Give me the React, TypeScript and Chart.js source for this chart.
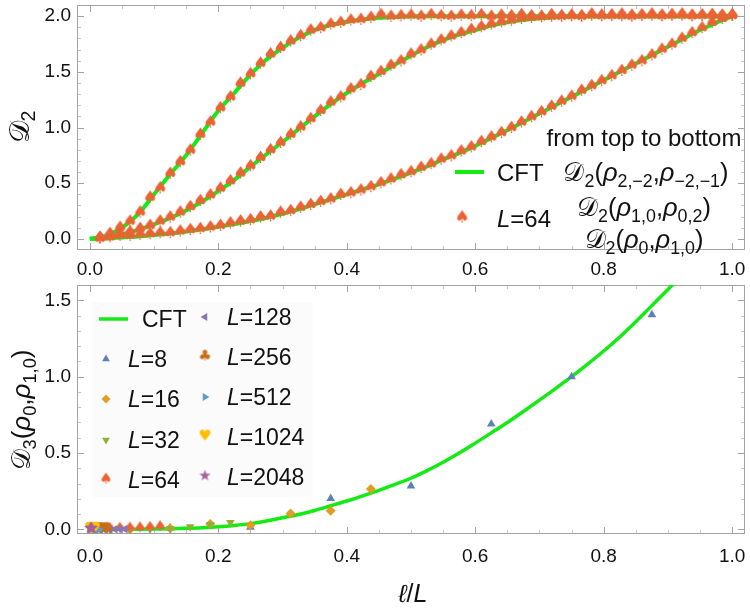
import React, { useEffect, useRef } from "react";
import { Chart, registerables } from "chart.js";
import { drawPoint } from "chart.js/helpers";

Chart.register(...registerables);

// ---------------- data ----------------
const X_TICKS = [0, 0.2, 0.4, 0.6, 0.8, 1.0];
const X_MINOR = [0.05, 0.1, 0.15, 0.25, 0.3, 0.35, 0.45, 0.5, 0.55, 0.65, 0.7, 0.75, 0.85, 0.9, 0.95];
const TOP_Y_TICKS = [0, 0.5, 1.0, 1.5, 2.0];
const TOP_Y_MINOR = [0.1, 0.2, 0.3, 0.4, 0.6, 0.7, 0.8, 0.9, 1.1, 1.2, 1.3, 1.4, 1.6, 1.7, 1.8, 1.9];
const BOT_Y_TICKS = [0, 0.5, 1.0, 1.5];
const BOT_Y_MINOR = [0.1, 0.2, 0.3, 0.4, 0.6, 0.7, 0.8, 0.9, 1.1, 1.2, 1.3, 1.4];

// CFT curves sampled on l/L grid
const CFT_X = [0, 0.025, 0.05, 0.075, 0.1, 0.125, 0.15, 0.175, 0.2, 0.225, 0.25, 0.275, 0.3, 0.325, 0.35, 0.375, 0.4, 0.425, 0.45, 0.475, 0.5, 0.525, 0.55, 0.575, 0.6, 0.625, 0.65, 0.675, 0.7, 0.725, 0.75, 0.775, 0.8, 0.825, 0.85, 0.875, 0.9, 0.925, 0.95, 0.975, 1.0];
const CFT_TOP = [0, 0.03, 0.1, 0.22, 0.4, 0.58, 0.75, 0.95, 1.15, 1.31, 1.475, 1.61, 1.715, 1.805, 1.875, 1.92, 1.95, 1.97, 1.985, 1.993, 1.997, 2, 2, 2, 2, 2, 2, 2, 2, 2, 2, 2, 2, 2, 2, 2, 2, 2, 2, 2, 2];
const CFT_MID = [0, 0.012, 0.04, 0.08, 0.13, 0.187, 0.255, 0.335, 0.428, 0.53, 0.647, 0.76, 0.87, 0.985, 1.1, 1.21, 1.31, 1.4, 1.48, 1.565, 1.645, 1.72, 1.785, 1.835, 1.875, 1.915, 1.945, 1.965, 1.98, 1.99, 1.995, 2, 2, 2, 2, 2, 2, 2, 2, 2, 2];
const CFT_BOT = [0, 0.004, 0.012, 0.022, 0.034, 0.048, 0.066, 0.086, 0.108, 0.133, 0.16, 0.19, 0.225, 0.265, 0.31, 0.355, 0.4, 0.445, 0.49, 0.54, 0.595, 0.65, 0.713, 0.77, 0.835, 0.905, 0.975, 1.05, 1.125, 1.2, 1.275, 1.35, 1.425, 1.5, 1.575, 1.65, 1.725, 1.8, 1.875, 1.94, 2.0];

// L=64 lattice data, l = 1..64
const L64 = 64;
const TOP_L64 = [
  0.0, 0.04, 0.095, 0.15, 0.232, 0.365, 0.449, 0.58, 0.684, 0.788,
  0.93, 1.04, 1.168, 1.266, 1.39, 1.474, 1.569, 1.652, 1.709, 1.768,
  1.816, 1.866, 1.887, 1.92, 1.935, 1.956, 1.962, 1.98, 2.005, 1.99,
  1.995, 2.0, 1.99, 2.005, 1.995, 1.99, 2.0, 1.995, 2.005, 1.99,
  2.0, 1.995, 2.005, 1.995, 1.99, 2.005, 1.995, 2.0, 1.99, 2.01,
  1.995, 2.0, 2.01, 1.99, 2.0, 2.01, 1.995, 2.005, 2.01, 1.995,
  2.0, 2.005, 1.995, 2.0,
];
const MID_L64 = [
  0.0, 0.02, 0.039, 0.055, 0.085, 0.112, 0.151, 0.187, 0.232, 0.28,
  0.335, 0.386, 0.446, 0.512, 0.582, 0.647, 0.722, 0.791, 0.856, 0.93,
  0.996, 1.07, 1.144, 1.219, 1.266, 1.338, 1.376, 1.45, 1.494, 1.55,
  1.59, 1.65, 1.688, 1.739, 1.777, 1.813, 1.842, 1.872, 1.896, 1.92,
  1.94, 1.955, 1.97, 1.98, 1.985, 1.99, 1.99, 1.995, 1.995, 2.0,
  2.0, 2.0, 1.995, 2.0, 2.0, 2.0, 2.0, 2.0, 2.0, 2.0,
  2.0, 2.0, 2.0, 2.0,
];
const BOT_L64 = [
  0.003, 0.009, 0.023, 0.023, 0.032, 0.038, 0.047, 0.047, 0.062, 0.074,
  0.083, 0.098, 0.112, 0.134, 0.151, 0.163, 0.187, 0.196, 0.23, 0.245,
  0.275, 0.3, 0.327, 0.35, 0.39, 0.405, 0.43, 0.46, 0.495, 0.529,
  0.567, 0.594, 0.633, 0.665, 0.707, 0.737, 0.781, 0.817, 0.865, 0.906,
  0.945, 0.99, 1.04, 1.088, 1.132, 1.182, 1.227, 1.272, 1.325, 1.367,
  1.411, 1.456, 1.503, 1.551, 1.59, 1.643, 1.694, 1.739, 1.792, 1.842,
  1.887, 1.935, 1.97, 2.0,
];

// bottom panel: D3 CFT curve (clipped at top of frame)
const D3_CFT = [0, 0, 0.0005, 0.001, 0.002, 0.004, 0.007, 0.011, 0.017, 0.026, 0.038, 0.055, 0.076, 0.098, 0.124, 0.155, 0.186, 0.22, 0.256, 0.295, 0.335, 0.385, 0.44, 0.5, 0.565, 0.632, 0.7, 0.772, 0.846, 0.922, 1.0, 1.082, 1.168, 1.26, 1.36, 1.465, 1.57, 1.68];

const ELL = [1, 2, 3, 4, 5, 6, 7];
const SIZES = [8, 16, 32, 64, 128, 256, 512, 1024, 2048];
const D3_L8 = [0.01, 0.015, 0.203, 0.284, 0.69, 1.0, 1.406];
const D3_L16 = [0.001, 0.008, 0.035, 0.028, 0.105, 0.122, 0.264];
const D3_L32 = [0.0, 0.001, 0.002, 0.006, 0.017, 0.03, 0.046];
const D3_L64 = [0.0, 0.0, 0.001, 0.002, 0.004, 0.007, 0.012];
const D3_L128 = [0.0, 0.0, 0.0, 0.0, 0.001, 0.001, 0.002];
const D3_L256 = [0.0, 0.0, 0.0, 0.0, 0.0, 0.0, 0.001];
const D3_L512 = [0.0, 0.0, 0.0, 0.0, 0.0, 0.0, 0.0];
const D3_L1024 = [0.0, 0.0, 0.0, 0.0, 0.0, 0.0, 0.0];
const D3_L2048 = [0.0, 0.0, 0.0, 0.0, 0.0, 0.0, 0.0];
const D3_VALUES = [D3_L8, D3_L16, D3_L32, D3_L64, D3_L128, D3_L256, D3_L512, D3_L1024, D3_L2048];

// ---------------- styles ----------------
const FONT = '"Liberation Sans", Arial, Helvetica, sans-serif';
const SCRIPT_FONT = '"DejaVu Serif", "DejaVu Sans", serif';
const GREEN = "#14ea14";
const FRAME = "#a3a3a3";
const MINOR = "#c4c4c4";
const TEXT = "#111111";
const COLORS = ["#5e81b5", "#e19c24", "#8fb032", "#eb6235", "#8778b3", "#c56e1a", "#5d9ec7", "#ffbf00", "#a5609d"];

type Seg = { t: string; sub?: boolean; it?: boolean; scr?: boolean };

function segFont(s: Seg, size: number) {
  const px = s.sub ? size * 0.7 : size;
  if (s.scr) return `${px}px ${SCRIPT_FONT}`;
  return `${s.it ? "italic " : ""}${px}px ${FONT}`;
}

function drawRich(ctx: CanvasRenderingContext2D, segs: Seg[], x0: number, cy: number, size: number, align: "center" | "left" = "center") {
  ctx.save();
  const widths = segs.map((s) => {
    ctx.font = segFont(s, size);
    return ctx.measureText(s.t).width;
  });
  const total = widths.reduce((a, b) => a + b, 0);
  let x = align === "center" ? x0 - total / 2 : x0;
  const base = cy + size * 0.36;
  ctx.textAlign = "left";
  ctx.textBaseline = "alphabetic";
  ctx.fillStyle = TEXT;
  segs.forEach((s, i) => {
    ctx.font = segFont(s, size);
    ctx.fillText(s.t, x, s.sub ? base + size * 0.22 : base);
    x += widths[i];
  });
  ctx.restore();
}

function dSegs(n: string, a: string, b: string): Seg[] {
  return [
    { t: "𝒟", scr: true },
    { t: n, sub: true },
    { t: "(" },
    { t: "ρ", it: true },
    { t: a, sub: true },
    { t: "," },
    { t: "ρ", it: true },
    { t: b, sub: true },
    { t: ")" },
  ];
}

function glyph(ch: string, color: string, px: number) {
  const size = Math.ceil(px * 1.1);
  const c = document.createElement("canvas");
  c.width = size;
  c.height = size;
  const g = c.getContext("2d")!;
  g.fillStyle = color;
  g.font = `${px}px "DejaVu Sans"`;
  g.textAlign = "center";
  g.textBaseline = "middle";
  g.fillText(ch, size / 2, size / 2);
  return c;
}

function makeFrame(yMajor: number[], yMinor: number[]) {
  return {
    id: "frame",
    beforeDatasetsDraw(chart: any) {
      const { ctx, chartArea: a, scales } = chart;
      const xs = scales.x;
      const ys = scales.y;
      ctx.save();
      ctx.lineWidth = 1;
      const drawSet = (xv: number[], yv: number[], len: number, color: string) => {
        ctx.strokeStyle = color;
        ctx.beginPath();
        xv.forEach((v) => {
          const p = Math.round(xs.getPixelForValue(v)) + 0.5;
          ctx.moveTo(p, a.bottom);
          ctx.lineTo(p, a.bottom - len);
          ctx.moveTo(p, a.top);
          ctx.lineTo(p, a.top + len);
        });
        yv.forEach((v) => {
          const p = Math.round(ys.getPixelForValue(v)) + 0.5;
          ctx.moveTo(a.left, p);
          ctx.lineTo(a.left + len, p);
          ctx.moveTo(a.right, p);
          ctx.lineTo(a.right - len, p);
        });
        ctx.stroke();
      };
      drawSet(X_MINOR, yMinor, 4, MINOR);
      drawSet(X_TICKS, yMajor, 7, FRAME);
      ctx.strokeStyle = FRAME;
      ctx.strokeRect(a.left + 0.5, a.top + 0.5, a.right - a.left - 1, a.bottom - a.top - 1);
      ctx.restore();
    },
  };
}

function scales(yMin: number, yMax: number, yTicks: number[], yTitleW: number, xH: number, xPad: number) {
  return {
    x: {
      type: "linear" as const,
      min: -0.02,
      max: 1.02,
      grid: { display: false, drawTicks: false },
      border: { display: false },
      ticks: { font: { family: FONT, size: 19 }, color: TEXT, padding: xPad, callback: (v: any) => Number(v).toFixed(1) },
      afterBuildTicks: (s: any) => {
        s.ticks = X_TICKS.map((v) => ({ value: v }));
      },
      afterFit: (s: any) => {
        s.height = xH;
        s.paddingLeft = 0;
        s.paddingRight = 0;
      },
    },
    y: {
      type: "linear" as const,
      min: yMin,
      max: yMax,
      grid: { display: false, drawTicks: false },
      border: { display: false },
      ticks: { font: { family: FONT, size: 19 }, color: TEXT, padding: 6, callback: (v: any) => Number(v).toFixed(1) },
      afterBuildTicks: (s: any) => {
        s.ticks = yTicks.map((v) => ({ value: v }));
      },
      afterFit: (s: any) => {
        s.width = yTitleW;
        s.paddingTop = 0;
        s.paddingBottom = 0;
      },
    },
  };
}

export default function App() {
  const topRef = useRef<HTMLCanvasElement>(null);
  const botRef = useRef<HTMLCanvasElement>(null);

  useEffect(() => {
    const spade = glyph("♠", COLORS[3], 17);
    const spadeSmall = glyph("♠", COLORS[3], 15);
    const club = glyph("♣", COLORS[5], 15);
    const heart = glyph("♥", COLORS[7], 15);
    const star = glyph("★", COLORS[8], 15);

    // ---- top chart ----
    const line = (vals: number[]) => ({
      data: CFT_X.map((x, i) => ({ x, y: vals[i] })),
      showLine: true,
      borderColor: GREEN,
      borderWidth: 4,
      pointRadius: 0,
      cubicInterpolationMode: "monotone" as const,
      order: 10,
    });
    const pts = (vals: number[]) => ({
      data: vals.map((y, i) => ({ x: (i + 1) / L64, y })),
      pointStyle: spade,
      pointRadius: 5,
      backgroundColor: COLORS[3],
      borderWidth: 0,
      order: 1,
    });

    const topLegend = {
      id: "topLegend",
      afterDraw(chart: any) {
        const ctx = chart.ctx as CanvasRenderingContext2D;
        ctx.save();
        ctx.strokeStyle = GREEN;
        ctx.lineWidth = 4;
        ctx.beginPath();
        ctx.moveTo(455, 172);
        ctx.lineTo(484, 172);
        ctx.stroke();
        ctx.drawImage(spade, 462 - spade.width / 2, 218 - spade.height / 2);
        ctx.restore();
        drawRich(ctx, [{ t: "CFT" }], 497, 172, 24, "left");
        drawRich(ctx, [{ t: "L", it: true }, { t: "=64" }], 497, 218, 24, "left");
        drawRich(ctx, [{ t: "from top to bottom" }], 644, 137, 24);
        drawRich(ctx, dSegs("2", "2,−2", "−2,−1"), 646, 172, 25.5);
        drawRich(ctx, dSegs("2", "1,0", "0,2"), 644, 207, 25.5);
        drawRich(ctx, dSegs("2", "0", "1,0"), 644, 239, 25.5);
        // y title
        ctx.save();
        ctx.translate(19, 127);
        ctx.rotate(-Math.PI / 2);
        drawRich(ctx, [{ t: "𝒟", scr: true }, { t: "2", sub: true }], 0, 0, 28);
        ctx.restore();
      },
    };

    const top = new Chart(topRef.current!, {
      type: "scatter",
      data: {
        datasets: [line(CFT_TOP), line(CFT_MID), line(CFT_BOT), pts(TOP_L64), pts(MID_L64), pts(BOT_L64)] as any,
      },
      options: {
        responsive: false,
        animation: false,
        layout: { padding: { top: 3, right: 2, left: 0, bottom: 0 } },
        plugins: { legend: { display: false }, tooltip: { enabled: false } },
        scales: scales(-0.1, 2.1, TOP_Y_TICKS, 77, 30, 8) as any,
      },
      plugins: [makeFrame(TOP_Y_TICKS, TOP_Y_MINOR), topLegend],
    });

    // ---- bottom chart ----
    const styles: any[] = [
      { pointStyle: "triangle", rotation: 0, pointRadius: 5 },
      { pointStyle: "rectRot", rotation: 0, pointRadius: 5 },
      { pointStyle: "triangle", rotation: 180, pointRadius: 5 },
      { pointStyle: spadeSmall, rotation: 0, pointRadius: 5 },
      { pointStyle: "triangle", rotation: 270, pointRadius: 5 },
      { pointStyle: club, rotation: 0, pointRadius: 5 },
      { pointStyle: "triangle", rotation: 90, pointRadius: 5 },
      { pointStyle: heart, rotation: 0, pointRadius: 5 },
      { pointStyle: star, rotation: 0, pointRadius: 5 },
    ];
    const botSets: any[] = [
      {
        data: D3_CFT.map((y, i) => ({ x: CFT_X[i], y })),
        showLine: true,
        borderColor: GREEN,
        borderWidth: 3.5,
        pointRadius: 0,
        cubicInterpolationMode: "monotone",
        order: 100,
      },
      ...SIZES.map((L, k) => ({
        data: ELL.map((l, i) => ({ x: l / L, y: D3_VALUES[k][i] })),
        backgroundColor: COLORS[k],
        borderWidth: 0,
        ...styles[k],
        order: 50 - k,
      })),
    ];

    const botLegend = {
      id: "botLegend",
      afterDraw(chart: any) {
        const ctx = chart.ctx as CanvasRenderingContext2D;
        ctx.save();
        ctx.strokeStyle = GREEN;
        ctx.lineWidth = 3.5;
        ctx.beginPath();
        ctx.moveTo(99, 44);
        ctx.lineTo(128, 44);
        ctx.stroke();
        ctx.restore();
        drawRich(ctx, [{ t: "CFT" }], 142, 44, 23, "left");
        const pos = [
          [106, 84], [106, 124], [106, 165], [106, 205],
          [205, 42], [205, 82], [205, 122], [205, 162], [205, 202],
        ];
        SIZES.forEach((L, k) => {
          const [mx, my] = pos[k];
          ctx.save();
          ctx.fillStyle = COLORS[k];
          drawPoint(ctx, { pointStyle: styles[k].pointStyle, rotation: styles[k].rotation, radius: 4.5, borderWidth: 0 } as any, mx, my);
          ctx.restore();
          drawRich(ctx, [{ t: "L", it: true }, { t: "=" + L }], mx + 22, my, 23, "left");
        });
        // axis titles
        ctx.save();
        ctx.translate(21, 135);
        ctx.rotate(-Math.PI / 2);
        drawRich(ctx, [{ t: "𝒟", scr: true }, { t: "3", sub: true }, { t: "(" }, { t: "ρ", it: true }, { t: "0", sub: true }, { t: "," }, { t: "ρ", it: true }, { t: "1,0", sub: true }, { t: ")" }], 0, 0, 26);
        ctx.restore();
        drawRich(ctx, [{ t: "ℓ", it: true }, { t: "/" }, { t: "L", it: true }], 413, 318, 25);
      },
    };

    const legendBg = {
      id: "legendBg",
      beforeDatasetsDraw(chart: any) {
        const ctx = chart.ctx as CanvasRenderingContext2D;
        ctx.save();
        ctx.fillStyle = "rgba(0,0,0,0.015)";
        ctx.fillRect(92, 27, 221, 195);
        ctx.restore();
      },
    };

    const bot = new Chart(botRef.current!, {
      type: "scatter",
      data: { datasets: botSets },
      options: {
        responsive: false,
        animation: false,
        layout: { padding: { top: 10, right: 3, left: 0, bottom: 0 } },
        plugins: { legend: { display: false }, tooltip: { enabled: false } },
        scales: scales(-0.03, 1.6, BOT_Y_TICKS, 77, 79, 11) as any,
      },
      plugins: [legendBg, makeFrame(BOT_Y_TICKS, BOT_Y_MINOR), botLegend],
    });

    return () => {
      top.destroy();
      bot.destroy();
    };
  }, []);

  return (
    <div style={{ position: "absolute", left: 0, top: 0, width: 750, height: 613, background: "#ffffff", overflow: "hidden" }}>
      <canvas ref={topRef} width={750} height={280} style={{ position: "absolute", left: 0, top: 0 }} />
      <canvas ref={botRef} width={750} height={338} style={{ position: "absolute", left: 0, top: 275 }} />
    </div>
  );
}
